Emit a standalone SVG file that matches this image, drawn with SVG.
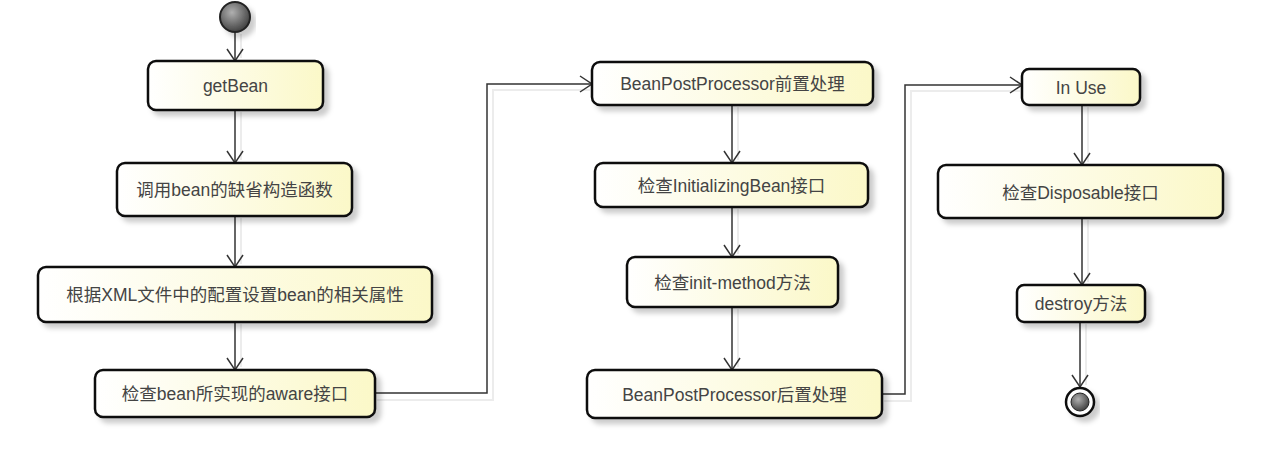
<svg xmlns="http://www.w3.org/2000/svg" width="1271" height="452" viewBox="0 0 1271 452">
<defs>
<linearGradient id="boxg" x1="0" y1="0" x2="1" y2="0">
<stop offset="0" stop-color="#ffffff"/>
<stop offset="1" stop-color="#fbf8c8"/>
</linearGradient>
<radialGradient id="startg" cx="0.4" cy="0.35" r="0.7">
<stop offset="0" stop-color="#b0b0b0"/>
<stop offset="1" stop-color="#3a3a3a"/>
</radialGradient>
<filter id="sh" x="-10%" y="-20%" width="130%" height="160%">
<feDropShadow dx="5" dy="5" stdDeviation="2.5" flood-color="#000" flood-opacity="0.2"/>
</filter>
<marker id="arr" markerWidth="16" markerHeight="18" refX="13" refY="9" orient="auto" markerUnits="userSpaceOnUse">
<path d="M1,1 L13,9 L1,17" fill="none" stroke="#333" stroke-width="1.5"/>
</marker>
</defs>
<style>
.box{fill:url(#boxg);stroke:#111;stroke-width:2.5;filter:url(#sh)}
.lbl{font-family:"Liberation Sans","Noto Sans CJK SC",sans-serif;font-size:17.5px;fill:#444;text-anchor:middle;dominant-baseline:central}
.ln{fill:none;stroke:#333;stroke-width:1.5;marker-end:url(#arr)}
.lsh{fill:none;stroke:#ececec;stroke-width:2}
</style>
<rect width="1271" height="452" fill="#ffffff"/>
<g id="connectors">
<path class="lsh" d="M241,34 V58 M241,112 V160 M241,218 V264 M241,324 V367 M377,400 H493 V90 H590 M738,107 V160 M738,209 V254 M738,309 V367 M884,401 H911 V91 H1020 M1088,107 V162 M1088,220 V282 M1086,324 V385"/>
<path class="ln" d="M235,32 V61"/>
<path class="ln" d="M235,110 V163"/>
<path class="ln" d="M235,216 V267"/>
<path class="ln" d="M235,322 V370"/>
<path class="ln" d="M375,393 H487 V84 H592"/>
<path class="ln" d="M732,105 V163"/>
<path class="ln" d="M732,207 V257"/>
<path class="ln" d="M732,307 V370"/>
<path class="ln" d="M882,394 H905 V85 H1022"/>
<path class="ln" d="M1082,105 V165"/>
<path class="ln" d="M1082,218 V285"/>
<path class="ln" d="M1080,322 V387"/>
</g>
<g id="start">
<circle cx="235" cy="17" r="15" fill="url(#startg)" stroke="#222" stroke-width="2" filter="url(#sh)"/>
</g>
<g id="getBean">
<rect class="box" x="148" y="61" width="175" height="49" rx="8"/>
<text class="lbl" x="235.5" y="86">getBean</text>
</g>
<g id="ctor">
<rect class="box" x="117" y="163" width="235" height="53" rx="8"/>
<text class="lbl" x="234.5" y="190">调用bean的缺省构造函数</text>
</g>
<g id="props">
<rect class="box" x="38" y="267" width="394" height="55" rx="8"/>
<text class="lbl" x="235" y="295">根据XML文件中的配置设置bean的相关属性</text>
</g>
<g id="aware">
<rect class="box" x="95" y="370" width="280" height="47" rx="8"/>
<text class="lbl" x="235" y="394">检查bean所实现的aware接口</text>
</g>
<g id="bppBefore">
<rect class="box" x="592" y="62" width="281" height="43" rx="8"/>
<text class="lbl" x="732.5" y="84">BeanPostProcessor前置处理</text>
</g>
<g id="initBean">
<rect class="box" x="595" y="163" width="273" height="44" rx="8"/>
<text class="lbl" x="731.5" y="186">检查InitializingBean接口</text>
</g>
<g id="initMethod">
<rect class="box" x="627" y="257" width="211" height="50" rx="8"/>
<text class="lbl" x="732.5" y="283">检查init-method方法</text>
</g>
<g id="bppAfter">
<rect class="box" x="587" y="370" width="295" height="48" rx="8"/>
<text class="lbl" x="734.5" y="395">BeanPostProcessor后置处理</text>
</g>
<g id="inUse">
<rect class="box" x="1022" y="69" width="118" height="36" rx="7"/>
<text class="lbl" x="1081" y="88">In Use</text>
</g>
<g id="disposable">
<rect class="box" x="938" y="165" width="285" height="53" rx="8"/>
<text class="lbl" x="1080.5" y="193">检查Disposable接口</text>
</g>
<g id="destroy">
<rect class="box" x="1017" y="285" width="128" height="37" rx="7"/>
<text class="lbl" x="1081" y="304">destroy方法</text>
</g>
<g id="end">
<circle cx="1080" cy="402" r="14" fill="#fff" stroke="#111" stroke-width="2.5" filter="url(#sh)"/>
<circle cx="1080" cy="402" r="9" fill="url(#startg)" stroke="#222" stroke-width="1"/>
</g>
</svg>
